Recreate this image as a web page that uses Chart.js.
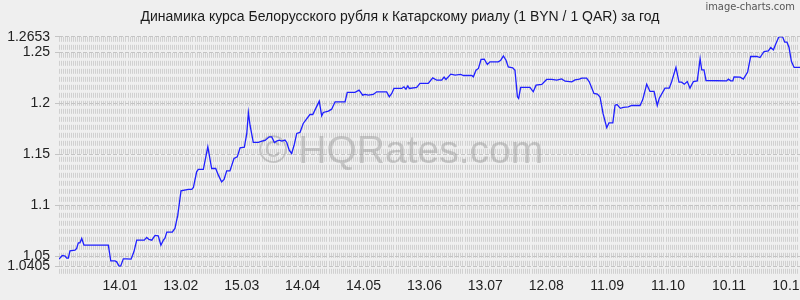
<!DOCTYPE html>
<html>
<head>
<meta charset="utf-8">
<script src="https://cdn.jsdelivr.net/npm/chart.js@4/dist/chart.umd.min.js"></script>
<style>
  html, body { margin:0; padding:0; background:#efefef; }
  #wrap { width:800px; height:300px; }
</style>
</head>
<body>
<div id="wrap"><canvas id="lineChart" width="800" height="300"></canvas></div>
<script>
// данные: день от 15.12 и курс BYN/QAR
const days = [0,1.6,3,3.8,4.6,5.4,7.9,8.7,9.5,10.3,11.2,12.3,24.3,25.5,27.6,28.4,29.6,30.4,31.7,33.3,35.5,36.9,38.3,42,43.2,44.3,45.7,47.3,48.9,50.2,51.4,52.2,53.1,55.8,57.1,58.5,60.1,63.7,65.4,66.2,67.8,68.6,71.1,73.3,75.2,77.2,78.5,80.1,81.3,82.6,84.2,86.2,87.8,89.2,91.3,92.5,93.3,94.1,95.7,98.2,99.9,101.5,103.6,104.8,106.1,107.2,108.5,109.7,111.3,112.2,113.4,114.6,115.9,117.1,118.7,120.3,123.6,125,126.6,128.2,129.4,130.2,132.7,134.3,136,140.9,142,145.8,147.8,149.6,150.7,152.4,154.8,156.5,161.4,162.7,163.9,165,168.8,169.9,170.9,171.8,172.6,176.2,177.8,181.9,184.1,186.1,188.5,189.7,190.6,193,195.1,197.9,199.2,203.3,204.1,205.4,206.6,207.9,209.5,211,212.3,216.4,217.6,218.9,220.2,221.3,223.5,224.6,225.8,226.4,227.4,232,233.6,235,237.8,240.2,242.7,245.2,247.6,249.3,252.6,254.2,256.3,257.5,259.9,261.2,263.5,265.2,266.5,268,269.8,270.9,272.8,273.9,274.9,276.5,278,280.4,282.1,286.2,287.5,289.5,291.1,293.1,294.7,295.7,298.5,300.6,301.8,303.9,305.4,306.7,308,309.5,310.8,312.5,314.4,315.8,316.6,317.7,318.7,328.9,329.7,330.9,331.9,332.5,335.5,337.1,339.2,340.7,343.7,345.3,347.3,349.4,350.6,351.9,353,354.6,356.4,357.5,358.6,359.6,360.8,362.1,365];
const rates = [1.0475,1.0511,1.0504,1.0485,1.0485,1.0556,1.0563,1.058,1.0635,1.0635,1.0678,1.0612,1.0612,1.0458,1.0458,1.0449,1.0407,1.0408,1.0478,1.0478,1.0475,1.0547,1.0661,1.0661,1.0688,1.0668,1.0661,1.0707,1.0704,1.0612,1.0661,1.068,1.074,1.074,1.0776,1.0906,1.1144,1.1158,1.1158,1.1177,1.133,1.1354,1.1354,1.1575,1.1363,1.1363,1.1298,1.1232,1.1256,1.134,1.134,1.1461,1.1477,1.1565,1.1572,1.1706,1.191,1.1787,1.1618,1.1618,1.1631,1.1638,1.1673,1.1673,1.1618,1.1631,1.1641,1.1631,1.1641,1.1618,1.1543,1.151,1.1598,1.1706,1.1716,1.1804,1.1892,1.1892,1.1957,1.2023,1.1879,1.1912,1.1925,1.1944,1.2016,1.2016,1.2108,1.2108,1.213,1.2081,1.2088,1.2081,1.2088,1.2114,1.2114,1.2065,1.2098,1.2147,1.2147,1.2163,1.214,1.2172,1.2147,1.2157,1.2196,1.2196,1.2251,1.2228,1.2228,1.2258,1.2235,1.2287,1.2277,1.2284,1.2274,1.2274,1.2261,1.2326,1.2343,1.2431,1.2434,1.2382,1.2408,1.2408,1.2424,1.2466,1.2424,1.2358,1.2349,1.2326,1.2065,1.2049,1.2157,1.2157,1.2114,1.2179,1.2186,1.2235,1.2235,1.2228,1.2241,1.2218,1.2212,1.2231,1.2238,1.2248,1.2248,1.2212,1.2098,1.2091,1.2062,1.19,1.1763,1.181,1.181,1.1982,1.199,1.1952,1.1961,1.1967,1.198,1.198,1.2035,1.2189,1.2118,1.2118,1.198,1.2052,1.215,1.215,1.2215,1.2353,1.2209,1.2209,1.2189,1.2215,1.215,1.2215,1.2221,1.2437,1.2329,1.2329,1.2225,1.2221,1.2238,1.2221,1.2221,1.2261,1.2258,1.2238,1.2307,1.246,1.246,1.245,1.2509,1.2515,1.2548,1.2525,1.2581,1.2653,1.2653,1.26,1.26,1.2548,1.2411,1.2353,1.2353];

const xTickDays = [30,60,90,120,150,180,210,240,270,300,330,360];
const xTickLabels = ['14.01','13.02','15.03','14.04','14.05','13.06','13.07','12.08','11.09','11.10','10.11','10.12'];
const yTicks = [1.0405,1.05,1.1,1.15,1.2,1.25,1.2653];

const titleText = 'Динамика курса Белорусского рубля к Катарскому риалу (1 BYN / 1 QAR) за год';
const FONT = "'Liberation Sans', Arial, sans-serif";

// фон, водяной знак, подпись
const decor = {
  id:'decor',
  beforeDraw(c){
    const g=c.ctx; g.save(); g.fillStyle='#efefef'; g.fillRect(0,0,c.width,c.height);
    g.font="11px 'Liberation Sans Narrow', 'DejaVu Sans Condensed', sans-serif";
    g.fillStyle='#555'; g.textAlign='right'; g.textBaseline='middle';
    g.fillText('image-charts.com',795,7);
    g.restore();
  },
  beforeDatasetsDraw(c){
    const g=c.ctx; g.save();
    g.font='39px '+FONT; g.fillStyle='rgba(150,150,150,0.45)';
    g.textAlign='center'; g.textBaseline='alphabetic';
    g.fillText('© HQRates.com',401,163);
    g.restore();
  }
};

const ctx = document.getElementById('lineChart').getContext('2d');
const chart = new Chart(ctx, {
  type:'line',
  data:{ datasets:[{ data:days.map((d,i)=>({x:d,y:rates[i]})), borderColor:'#1f1fff', borderWidth:1.3, pointRadius:0, tension:0, fill:false }] },
  options:{
    responsive:false, animation:false,
    layout:{ padding:{left:0,right:0,top:0,bottom:0} },
    plugins:{
      legend:{display:false}, tooltip:{enabled:false},
      title:{ display:true, text:titleText, color:'#1a1a1a', font:{family:FONT,size:14,weight:'normal'}, padding:{top:9,bottom:11} }
    },
    scales:{
      x:{
        type:'linear', min:0, max:365,
        afterBuildTicks(s){ s.ticks=[]; for(let d=0; d<=365; d++) s.ticks.push({value:d}); },
        afterFit(s){ s.height=24; s.paddingLeft=0; s.paddingRight=0; },
        ticks:{ autoSkip:false, maxRotation:0, padding:2, color:'#222', font:{family:FONT,size:14},
          callback(v){ const i=xTickDays.indexOf(v); return i>=0 ? xTickLabels[i] : ''; } },
        grid:{ color:'#d0d0d0', lineWidth:1, drawTicks:false },
        border:{ display:false, dash:[5,3] }
      },
      y:{
        min:1.031, max:1.2653,
        afterBuildTicks(s){ s.ticks=yTicks.map(v=>({value:v})); },
        afterFit(s){ s.width=59; },
        ticks:{ autoSkip:false, padding:5, color:'#222', font:{family:FONT,size:14}, callback:v=>String(v) },
        grid:{ color:'#c4c4c4', lineWidth:1, tickLength:4 },
        border:{ display:false, dash:[4,2] }
      }
    }
  },
  plugins:[decor]
});
</script>
</body>
</html>
